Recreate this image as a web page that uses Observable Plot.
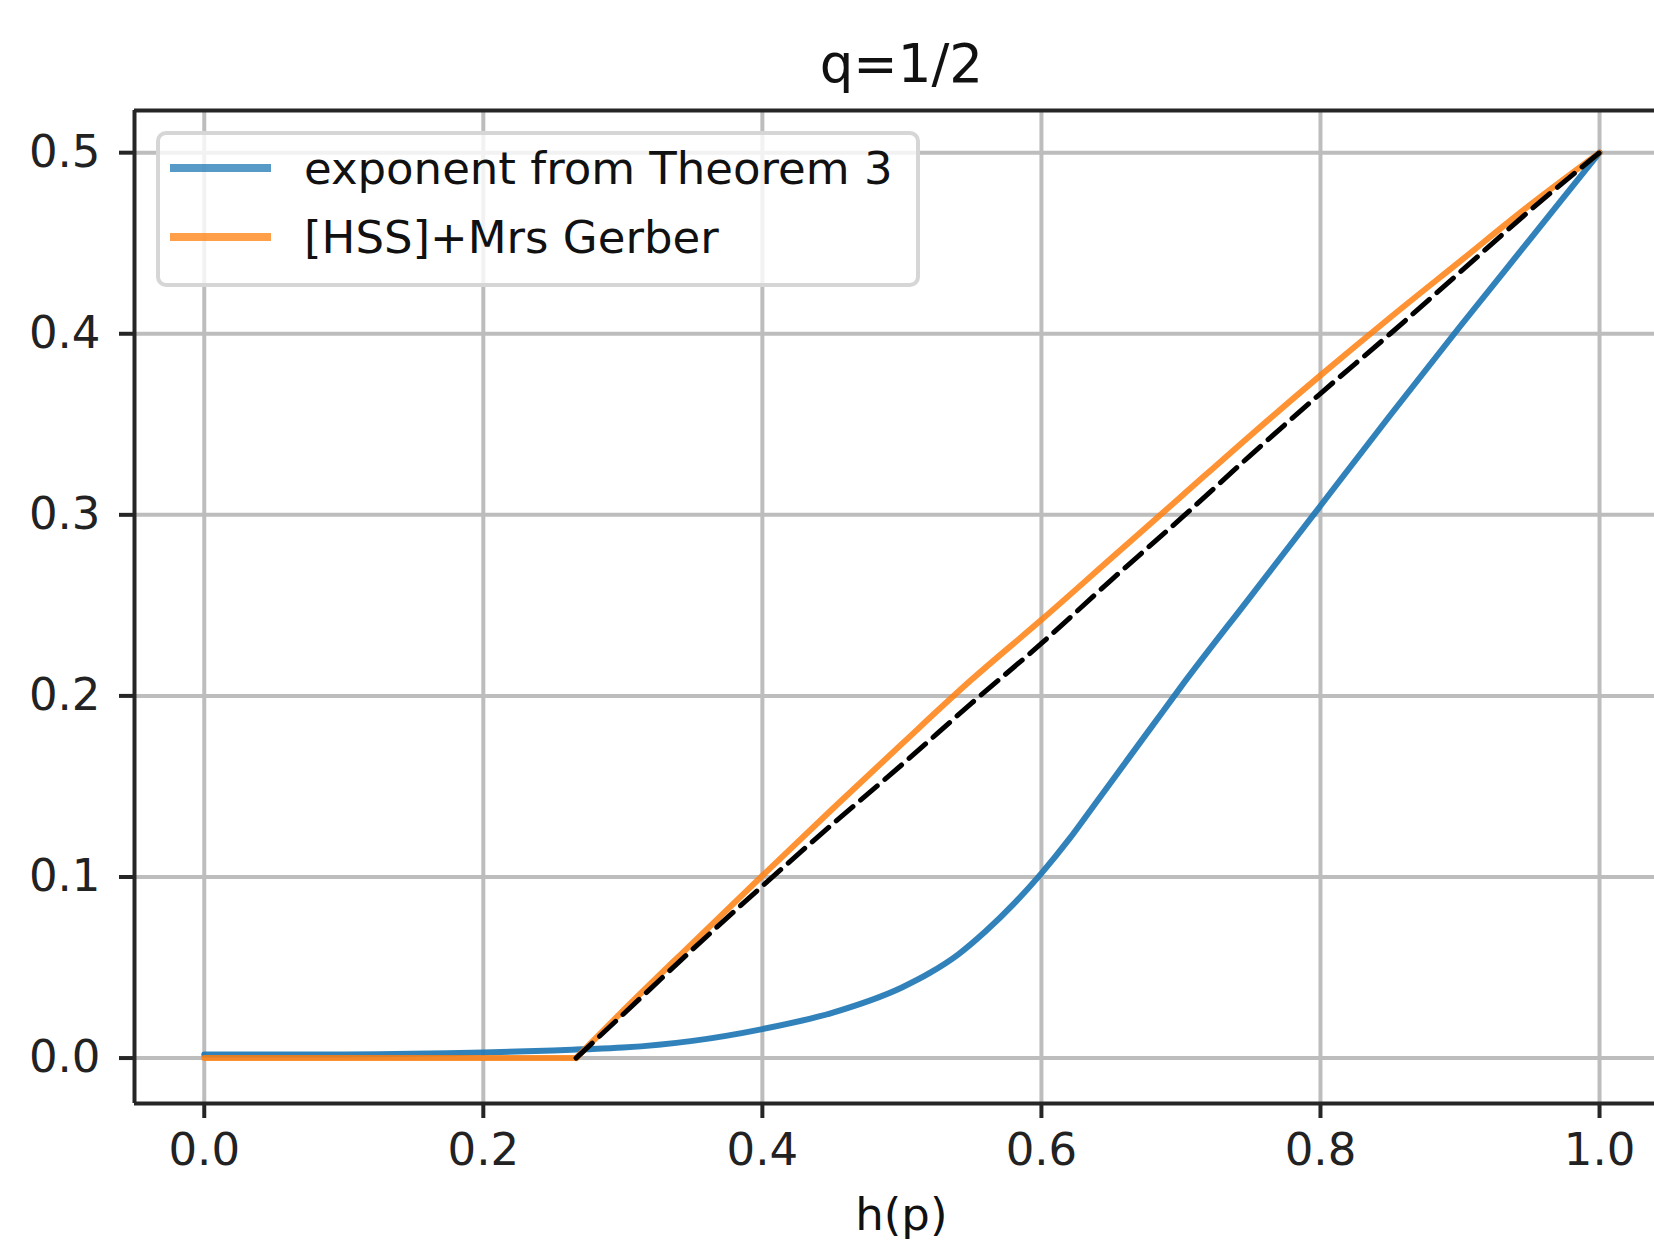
<!DOCTYPE html>
<html><head><meta charset="utf-8">
<script src="https://cdn.jsdelivr.net/npm/d3@7"></script>
<script src="https://cdn.jsdelivr.net/npm/@observablehq/plot@0.6"></script>
<style>
html,body{margin:0;padding:0;background:#fff;overflow:hidden;}
#chart{position:relative;width:1654px;height:1240px;overflow:hidden;}
#chart svg{display:block;max-width:none;}
</style></head><body><div id="chart"></div>
<script>
// ---- data ----
const title = "q=1/2";
const xLabel = "h(p)";
const xTicks = [0, 0.2, 0.4, 0.6, 0.8, 1.0];
const yTicks = [0, 0.1, 0.2, 0.3, 0.4, 0.5];
const seriesNames = ["exponent from Theorem 3", "[HSS]+Mrs Gerber"];
const seriesColors = ["#1f77b4", "#ff7f0e"];

// exponent from Theorem 3 (blue)
const theoremX = [0, 0.1, 0.2, 0.25, 0.27, 0.30, 0.35, 0.40, 0.45, 0.50, 0.52, 0.54, 0.56, 0.58, 0.60, 0.62, 0.64, 0.66, 0.68, 0.70, 0.75, 0.80, 0.85, 0.90, 0.95, 1.0];
const theoremY = [0.002, 0.002, 0.003, 0.0042, 0.0048, 0.0058, 0.0095, 0.016, 0.025, 0.039, 0.047, 0.057, 0.070, 0.085, 0.102, 0.121, 0.142, 0.163, 0.184, 0.205, 0.255, 0.305, 0.355, 0.404, 0.452, 0.5];

// [HSS]+Mrs Gerber (orange): flat part, then rising part
const hssFlatX = [0, 0.2665];
const hssFlatY = [0, 0];
const hssRiseX = [0.2665, 0.30, 0.35, 0.40, 0.45, 0.50, 0.55, 0.60, 0.65, 0.70, 0.75, 0.80, 0.85, 0.90, 0.95, 1.0];
const hssRiseY = [0, 0.026, 0.0635, 0.1007, 0.1374, 0.1735, 0.209, 0.242, 0.276, 0.310, 0.344, 0.377, 0.409, 0.440, 0.471, 0.5];

// dashed reference (black)
const refX = [0.2665, 0.30, 0.35, 0.40, 0.45, 0.50, 0.55, 0.60, 0.65, 0.70, 0.75, 0.80, 0.85, 0.90, 0.95, 1.0];
const refY = [0, 0.024, 0.060, 0.095, 0.129, 0.162, 0.196, 0.229, 0.264, 0.298, 0.333, 0.367, 0.400, 0.434, 0.468, 0.5];

const xDomain = [-0.05, 1.0394];
const yDomain = [-0.0251, 0.5233];

const toRows = (xs, ys, seg) => xs.map((x, i) => ({x, y: ys[i], seg}));
const theorem = toRows(theoremX, theoremY, "t");
const hss = [...toRows(hssFlatX, hssFlatY, "flat"), ...toRows(hssRiseX, hssRiseY, "rise")];
const ref = toRows(refX, refY, "r");

const W = 1654, H = 1240;
const spine = "#262626";
const grid = "#bdbdbd";
const fmt = d3.format(".1f");

const plot = Plot.plot({
  width: W, height: H,
  marginLeft: 134, marginRight: 0, marginTop: 110, marginBottom: 137,
  x: {domain: xDomain},
  y: {domain: yDomain},
  style: {fontFamily: "DejaVu Sans", fontSize: "45px", color: "#222", background: "#fff", overflow: "hidden"},
  marks: [
    Plot.gridX(xTicks, {stroke: grid, strokeOpacity: 1, strokeWidth: 4}),
    Plot.gridY(yTicks, {stroke: grid, strokeOpacity: 1, strokeWidth: 4}),
    Plot.line(theorem, {x: "x", y: "y", stroke: seriesColors[0], strokeWidth: 6, strokeOpacity: 0.92, curve: "monotone-x"}),
    Plot.line(hss, {x: "x", y: "y", z: "seg", stroke: seriesColors[1], strokeWidth: 6, strokeOpacity: 0.85, curve: "monotone-x"}),
    Plot.line(ref, {x: "x", y: "y", stroke: "black", strokeWidth: 5, strokeDasharray: "22,10", curve: "monotone-x"}),
    Plot.ruleX([xDomain[0]], {stroke: spine, strokeWidth: 4}),
    Plot.ruleY([yDomain[0]], {stroke: spine, strokeWidth: 4}),
    Plot.ruleY([yDomain[1]], {stroke: spine, strokeWidth: 4}),
    Plot.axisX(xTicks, {tickSize: 15, tickPadding: 15, tickFormat: fmt, fontSize: 45, label: null, stroke: spine, strokeWidth: 4, color: "#222"}),
    Plot.axisY(yTicks, {tickSize: 15, tickPadding: 19, tickFormat: fmt, fontSize: 45, label: null, stroke: spine, strokeWidth: 4, color: "#222"})
  ]
});
document.getElementById("chart").appendChild(plot);

// title, x label and legend drawn into the same SVG
const svg = d3.select(plot);
const xs = plot.scale("x");
const cx = xs.apply((xTicks[0] + xTicks[xTicks.length - 1]) / 2);

svg.append("text").attr("x", cx).attr("y", 82).attr("text-anchor", "middle")
  .attr("font-family", "DejaVu Sans").attr("font-size", 53).attr("fill", "#111").text(title);
svg.append("text").attr("x", cx).attr("y", 1230).attr("text-anchor", "middle")
  .attr("font-family", "DejaVu Sans").attr("font-size", 45).attr("fill", "#111").text(xLabel);

const lg = svg.append("g").attr("text-anchor", "start");
lg.append("rect").attr("x", 158).attr("y", 133).attr("width", 760).attr("height", 152).attr("rx", 8)
  .attr("fill", "#fff").attr("fill-opacity", 0.8).attr("stroke", "#d6d6d6").attr("stroke-width", 4);
seriesNames.forEach((name, i) => {
  const cy = 168 + i * 69;
  lg.append("line").attr("x1", 170).attr("x2", 271).attr("y1", cy).attr("y2", cy)
    .attr("stroke", seriesColors[i]).attr("stroke-opacity", 0.75).attr("stroke-width", 8);
  lg.append("text").attr("x", 304).attr("y", cy + 16).attr("text-anchor", "start")
    .attr("font-family", "DejaVu Sans").attr("font-size", 45).attr("fill", "#111").text(name);
});
</script>
</body></html>
